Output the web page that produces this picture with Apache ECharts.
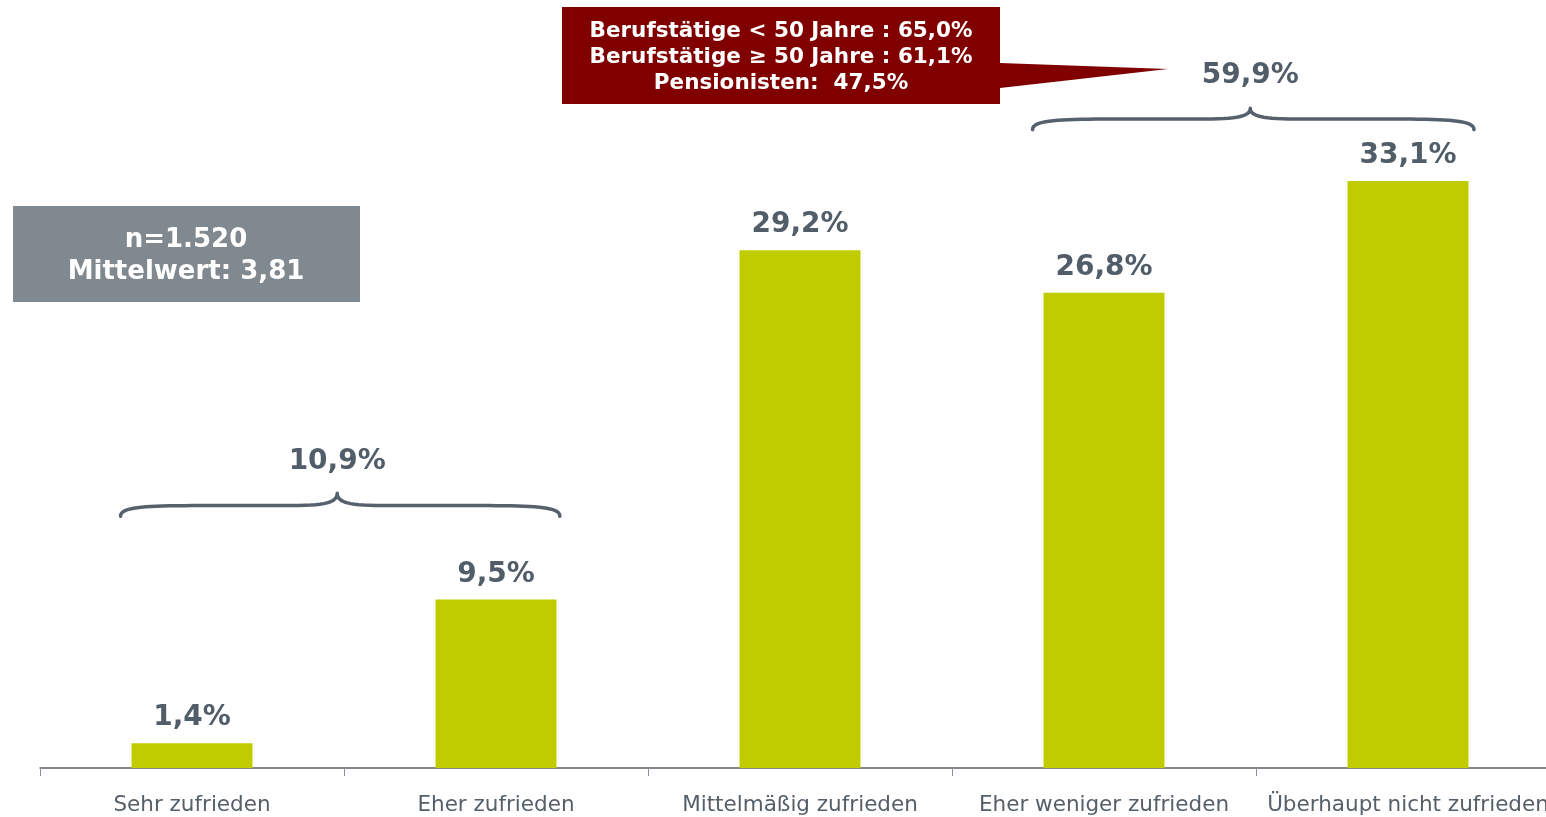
<!DOCTYPE html>
<html>
<head>
<meta charset="utf-8">
<script src="https://cdn.jsdelivr.net/npm/echarts@6/dist/echarts.min.js"></script>
<style>
html,body{margin:0;padding:0;background:#fff;}
#chart{width:1546px;height:817px;}
</style>
</head>
<body>
<div id="chart"></div>
<script>
const categories = ['Sehr zufrieden', 'Eher zufrieden', 'Mittelmäßig zufrieden', 'Eher weniger zufrieden', 'Überhaupt nicht zufrieden'];
const values = [1.4, 9.5, 29.2, 26.8, 33.1];
const valueLabels = ['1,4%', '9,5%', '29,2%', '26,8%', '33,1%'];
const groupLow = { from: 0, to: 1, label: '10,9%' };
const groupHigh = { from: 3, to: 4, label: '59,9%' };
const infoLines = ['n=1.520', 'Mittelwert: 3,81'];
const calloutLines = ['Berufstätige < 50 Jahre : 65,0%', 'Berufstätige ≥ 50 Jahre : 61,1%', 'Pensionisten:  47,5%'];

const FONT = '"DejaVu Sans", Verdana, sans-serif';
const TXT = '#515d69';
const chart = echarts.init(document.getElementById('chart'));

const option = {
  animation: false,
  backgroundColor: '#ffffff',
  grid: { left: 40, right: -14, top: 58.7, bottom: 49, containLabel: false, outerBoundsMode: 'none' },
  xAxis: {
    type: 'category',
    data: categories,
    axisLine: { lineStyle: { color: '#5a6068', width: 1.5 } },
    axisTick: { show: true, length: 8, lineStyle: { color: '#8a8f95', width: 1 } },
    axisLabel: { color: '#555f6a', fontFamily: FONT, fontSize: 21.5, margin: 26, interval: 0 }
  },
  yAxis: {
    type: 'value', min: 0, max: 40,
    show: false,
    splitLine: { show: false }
  },
  series: [{
    type: 'bar',
    data: values,
    barWidth: 121,
    itemStyle: { color: '#bfcc00' },
    label: {
      show: true, position: 'top', distance: 11,
      formatter: p => valueLabels[p.dataIndex],
      color: TXT, fontFamily: FONT, fontWeight: 'bold', fontSize: 28
    }
  }]
};
chart.setOption(option);

function cubic(p0, p1, p2, p3, n, out) {
  for (let i = 1; i <= n; i++) {
    const t = i / n, u = 1 - t;
    out.push([
      u*u*u*p0[0] + 3*u*u*t*p1[0] + 3*u*t*t*p2[0] + t*t*t*p3[0],
      u*u*u*p0[1] + 3*u*u*t*p1[1] + 3*u*t*t*p2[1] + t*t*t*p3[1]
    ]);
  }
}

function bracePoints(x1, x2, xm, yEnd, yFlat, yTip) {
  const pts = [[x1, yEnd]];
  cubic([x1, yEnd], [x1, yFlat + 1], [x1 + 25, yFlat], [x1 + 90, yFlat], 20, pts);
  pts.push([xm - 45, yFlat]);
  cubic([xm - 45, yFlat], [xm - 12, yFlat], [xm, yFlat - 3], [xm, yTip], 14, pts);
  cubic([xm, yTip], [xm, yFlat - 3], [xm + 12, yFlat], [xm + 45, yFlat], 14, pts);
  pts.push([x2 - 90, yFlat]);
  cubic([x2 - 90, yFlat], [x2 - 25, yFlat], [x2, yFlat + 1], [x2, yEnd], 20, pts);
  return pts;
}

function px(cat, val) { return chart.convertToPixel({ gridIndex: 0 }, [cat, val]); }
const bw = px(1, 0)[0] - px(0, 0)[0];

function braceGroup(g, yEndV, yFlatV, yTipV, yLabelV, padL, padR) {
  const x1 = px(g.from, 0)[0] - padL * bw;
  const x2 = px(g.to, 0)[0] + padR * bw;
  const xm = (x1 + x2) / 2 - 3;
  const yEnd = px(0, yEndV)[1], yFlat = px(0, yFlatV)[1], yTip = px(0, yTipV)[1], yLab = px(0, yLabelV)[1];
  return [
    { type: 'polyline', shape: { points: bracePoints(x1, x2, xm, yEnd, yFlat, yTip) },
      style: { fill: null, stroke: '#56616d', lineWidth: 3.5, lineCap: 'round', lineJoin: 'round' } },
    { type: 'text', x: xm, y: yLab,
      style: { text: g.label, fill: TXT, font: 'bold 28px ' + FONT, textAlign: 'center', textVerticalAlign: 'middle' } }
  ];
}

const elements = [];
elements.push(...braceGroup(groupLow, 14.2, 14.8, 15.5, 17.3, 0.235, 0.21));
elements.push(...braceGroup(groupHigh, 36.0, 36.6, 37.2, 39.05, 0.235, 0.217));

// info box
elements.push({ type: 'rect', shape: { x: 13, y: 206, width: 347, height: 96 }, style: { fill: '#808890' } });
elements.push({ type: 'text', x: 186, y: 256,
  style: { text: infoLines.join('\n'), fill: '#ffffff', font: 'bold 26px ' + FONT, textAlign: 'center', textVerticalAlign: 'middle', lineHeight: 32 } });

// callout
elements.push({ type: 'polygon',
  shape: { points: [[562, 7], [1000, 7], [1000, 63], [1168, 69], [1000, 88], [1000, 104], [562, 104]] },
  style: { fill: '#800000' } });
elements.push({ type: 'text', x: 781, y: 57,
  style: { text: calloutLines.join('\n'), fill: '#ffffff', font: 'bold 21.5px ' + FONT, textAlign: 'center', textVerticalAlign: 'middle', lineHeight: 26 } });

chart.setOption({ graphic: { elements: elements } });
</script>
</body>
</html>
